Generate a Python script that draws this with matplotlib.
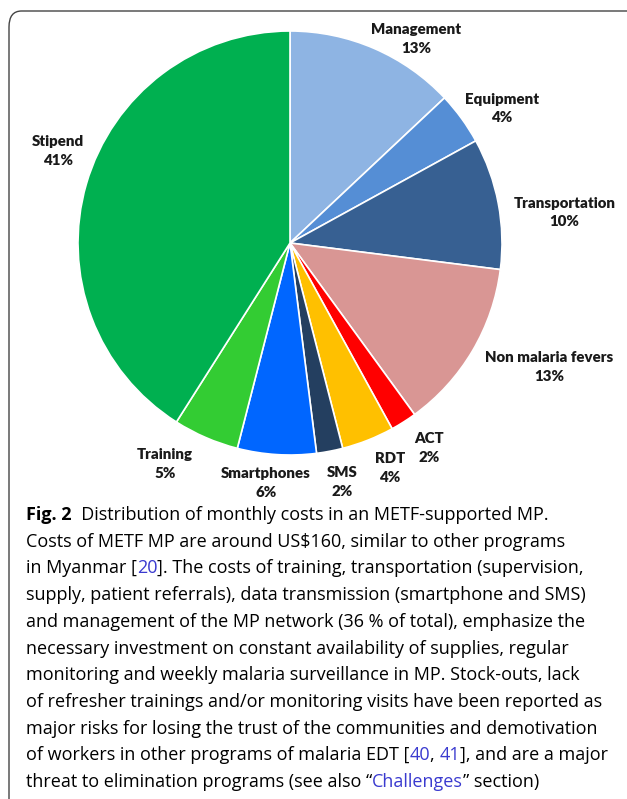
import matplotlib
matplotlib.use("Agg")
import matplotlib.pyplot as plt
from matplotlib.patches import FancyBboxPatch
import numpy as np

categories = ["Management", "Equipment", "Transportation", "Non malaria fevers",
              "ACT", "RDT", "SMS", "Smartphones", "Training", "Stipend"]
values = [13, 4, 10, 13, 2, 4, 2, 6, 5, 41]
colors = ["#8EB4E3", "#558ED5", "#376092", "#D99694", "#FF0000",
          "#FFC000", "#243F60", "#0066FF", "#33CC33", "#00B050"]
# label centres in pie-radius units
label_pos = [(0.595, 0.981), (1.0, 0.652), (1.295, 0.162), (1.224, -0.567),
             (0.657, -0.948), (0.471, -1.043), (0.248, -1.11), (-0.114, -1.114),
             (-0.59, -1.024), (-1.095, 0.452)]

caption = [
    [("Fig. 2", "bold", "k"), ("  Distribution of monthly costs in an METF-supported MP.", "normal", "k")],
    [("Costs of METF MP are around US$160, similar to other programs", "normal", "k")],
    [("in Myanmar [", "normal", "k"), ("20", "normal", "#3A3ACF"),
     ("]. The costs of training, transportation (supervision,", "normal", "k")],
    [("supply, patient referrals), data transmission (smartphone and SMS)", "normal", "k")],
    [("and management of the MP network (36 % of total), emphasize the", "normal", "k")],
    [("necessary investment on constant availability of supplies, regular", "normal", "k")],
    [("monitoring and weekly malaria surveillance in MP. Stock-outs, lack", "normal", "k")],
    [("of refresher trainings and/or monitoring visits have been reported as", "normal", "k")],
    [("major risks for losing the trust of the communities and demotivation", "normal", "k")],
    [("of workers in other programs of malaria EDT [", "normal", "k"), ("40", "normal", "#3A3ACF"),
     (", ", "normal", "k"), ("41", "normal", "#3A3ACF"), ("], and are a major", "normal", "k")],
    [("threat to elimination programs (see also \u201c", "normal", "k"), ("Challenges", "normal", "#3A3ACF"),
     ("\u201d section)", "normal", "k")],
]

W, H = 627, 799
fig = plt.figure(figsize=(W / 100, H / 100), dpi=100)

box = FancyBboxPatch((9 / W, -20 / H), (W + 30) / W, (H - 11 + 20) / H,
                     boxstyle="round,pad=0,rounding_size=0.02",
                     transform=fig.transFigure, fill=False, edgecolor="#444444",
                     linewidth=1.0, clip_on=True)
fig.patches.append(box)

cx, cy, r = 290, 243, 212
ax = fig.add_axes([(cx - r) / W, (H - cy - r) / H, 2 * r / W, 2 * r / H])
ax.pie(values, colors=colors, startangle=90, counterclock=False, radius=1,
       wedgeprops=dict(edgecolor="white", linewidth=1.2))
ax.set_xlim(-1, 1)
ax.set_ylim(-1, 1)
ax.set_aspect("auto")
ax.axis("off")
for name, v, (lx, ly) in zip(categories, values, label_pos):
    ax.text(lx, ly - 0.018, f"{name}\n{v}%", ha="center", va="center", fontsize=10.8,
            fontweight="heavy", family="Lato", color="#1a1a1a", linespacing=1.5,
            clip_on=False)

renderer = fig.canvas.get_renderer()
fs = 13
x0 = 26
base0 = 520
step = 26.7


def adv(s, weight):
    t1 = fig.text(0, 0, s + "|", fontsize=fs, family="Open Sans", fontweight=weight)
    t2 = fig.text(0, 0, "|", fontsize=fs, family="Open Sans", fontweight=weight)
    w = t1.get_window_extent(renderer).width - t2.get_window_extent(renderer).width
    t1.remove()
    t2.remove()
    return w


for i, line in enumerate(caption):
    x = x0
    y = H - (base0 + i * step)
    for s, weight, col in line:
        fig.text(x / W, y / H, s, fontsize=fs, family="Open Sans", fontweight=weight,
                 color=col, va="baseline", ha="left")
        x += adv(s, weight)

fig.savefig("out.png", dpi=100)
